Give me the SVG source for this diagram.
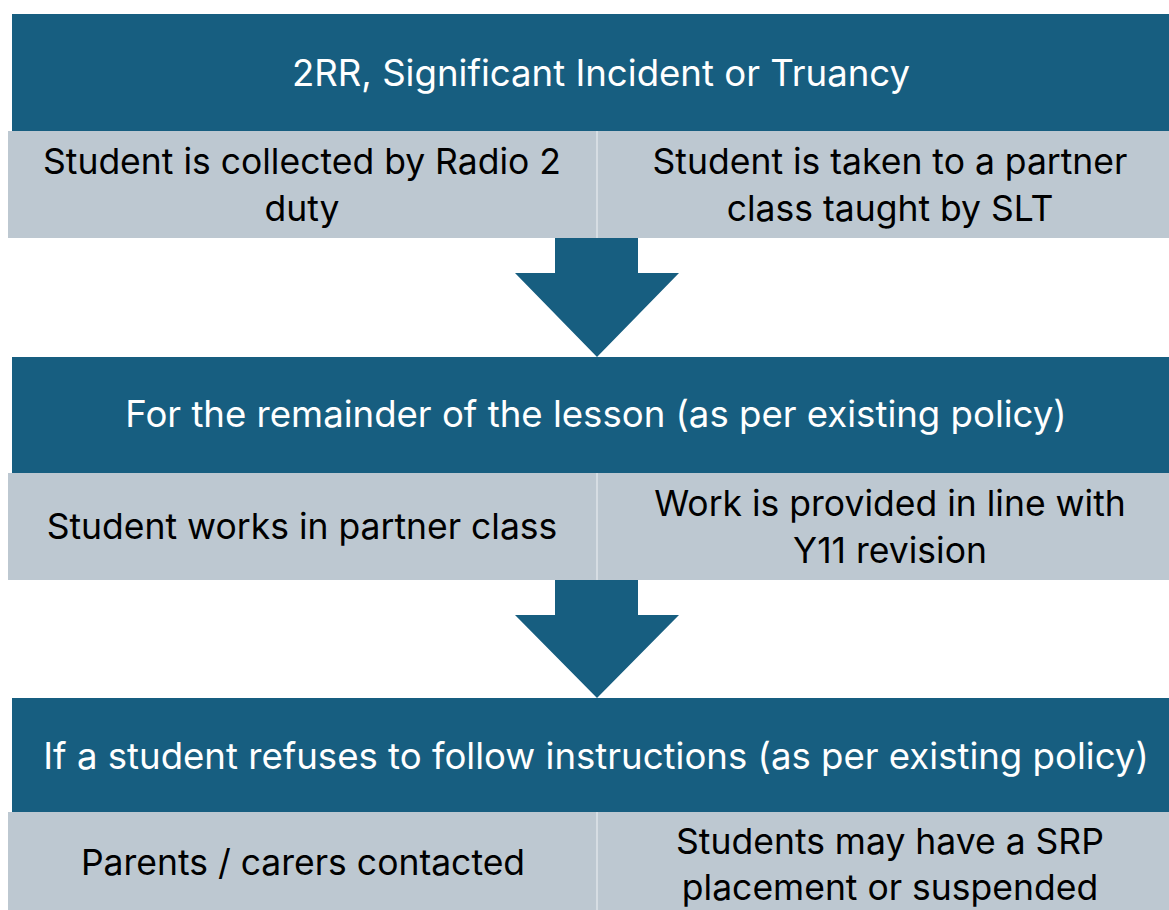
<svg xmlns="http://www.w3.org/2000/svg" width="1169" height="910" viewBox="0 0 1169 910">
<style>
.hdr{fill:#175e80}
.cell{fill:#bdc8d1}
.div{stroke:#d6dde3;stroke-width:2}
.arrow{fill:#175e80}
.ht{font-family:Inter,"Open Sans",sans-serif;font-size:36.6px;fill:#ffffff;text-anchor:middle}
.ct{font-family:Inter,"Open Sans",sans-serif;font-size:35.5px;fill:#000000;text-anchor:middle}
</style>
<rect width="1169" height="910" fill="#ffffff"/>
<g id="section1">
<rect class="hdr" x="12" y="14" width="1157" height="117"/>
<text class="ht" x="601" y="86">2RR, Significant Incident or Truancy</text>
</g>
<g id="cell1a">
<rect class="cell" x="8" y="131" width="589" height="107"/>
<text class="ct" x="302" y="174">Student is collected by Radio 2</text>
<text class="ct" x="302" y="221">duty</text>
</g>
<g id="cell1b">
<rect class="cell" x="597" y="131" width="572" height="107"/>
<text class="ct" x="890" y="174">Student is taken to a partner</text>
<text class="ct" x="890" y="221">class taught by SLT</text>
</g>
<g id="section2">
<rect class="hdr" x="12" y="357" width="1157" height="116"/>
<text class="ht" x="596" y="427">For the remainder of the lesson (as per existing policy)</text>
</g>
<g id="cell2a">
<rect class="cell" x="8" y="473" width="589" height="107"/>
<text class="ct" x="302" y="539">Student works in partner class</text>
</g>
<g id="cell2b">
<rect class="cell" x="597" y="473" width="572" height="107"/>
<text class="ct" x="890" y="516">Work is provided in line with</text>
<text class="ct" x="890" y="563">Y11 revision</text>
</g>
<g id="section3">
<rect class="hdr" x="12" y="698" width="1157" height="114"/>
<text class="ht" x="596" y="769">If a student refuses to follow instructions (as per existing policy)</text>
</g>
<g id="cell3a">
<rect class="cell" x="8" y="812" width="589" height="98"/>
<text class="ct" x="303" y="875">Parents / carers contacted</text>
</g>
<g id="cell3b">
<rect class="cell" x="597" y="812" width="572" height="98"/>
<text class="ct" x="890" y="854">Students may have a SRP</text>
<text class="ct" x="890" y="900">placement or suspended</text>
</g>
<g id="connectors">
<line class="div" x1="597" y1="131" x2="597" y2="238"/>
<line class="div" x1="597" y1="473" x2="597" y2="580"/>
<line class="div" x1="597" y1="812" x2="597" y2="910"/>
<polygon class="arrow" points="555,238 638,238 638,273 679,273 597,357 515,273 555,273"/>
<polygon class="arrow" points="555,580 638,580 638,615 679,615 597,698 515,615 555,615"/>
</g>
</svg>
